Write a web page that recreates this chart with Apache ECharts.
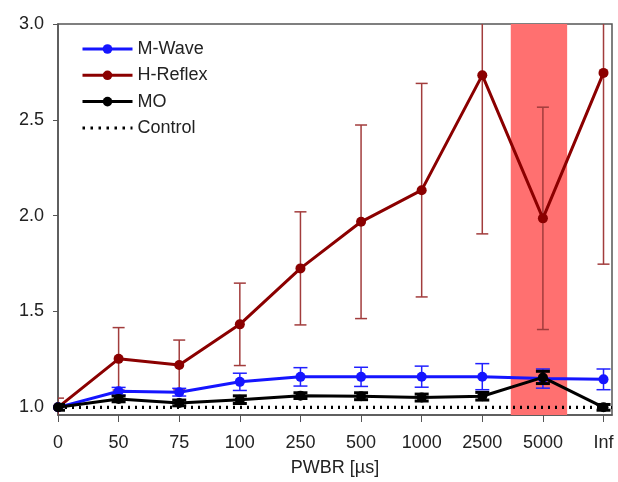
<!DOCTYPE html>
<html>
<head>
<meta charset="utf-8">
<script src="https://cdn.jsdelivr.net/npm/echarts@6/dist/echarts.min.js"></script>
<style>html,body{margin:0;padding:0;background:#fff}#c{width:618px;height:482px}</style>
</head>
<body>
<div id="c"></div>
<script>
const categories = ['0','50','75','100','250','500','1000','2500','5000','Inf'];
const hReflex    = [1.00, 1.253, 1.221, 1.433, 1.725, 1.968, 2.133, 2.733, 1.986, 2.745];
const hReflexErr = [0.048, 0.163, 0.130, 0.215, 0.295, 0.505, 0.557, 0.828, 0.580, 0.998];
const mWave      = [1.00, 1.084, 1.079, 1.133, 1.159, 1.159, 1.160, 1.160, 1.150, 1.146];
const mWaveErr   = [0.012, 0.020, 0.020, 0.045, 0.048, 0.050, 0.055, 0.068, 0.050, 0.054];
const moVals     = [1.00, 1.044, 1.023, 1.040, 1.061, 1.058, 1.051, 1.058, 1.156, 1.00];
const moErr      = [0.015, 0.015, 0.015, 0.020, 0.015, 0.018, 0.018, 0.020, 0.032, 0.015];
const controlVals = [1, 1, 1, 1, 1, 1, 1, 1, 1, 1];
const controlLevel = 1.0;
const highlightRange = [7.47, 8.40];
const yTicks = [1.0, 1.5, 2.0, 2.5, 3.0];

const idx = categories.map((c, i) => i);
const pts = arr => arr.map((v, i) => [i, v]);
const errData = (vals, errs) => vals.map((v, i) => [i, v - errs[i], v + errs[i]]);

function errRender(color, lw, capHalf) {
  return function (params, api) {
    const x = api.value(0);
    const p1 = api.coord([x, api.value(1)]);
    const p2 = api.coord([x, api.value(2)]);
    const st = { stroke: color, lineWidth: lw };
    return {
      type: 'group',
      children: [
        { type: 'line', shape: { x1: p1[0], y1: p1[1], x2: p2[0], y2: p2[1] }, style: st },
        { type: 'line', shape: { x1: p1[0] - capHalf, y1: p1[1], x2: p1[0] + capHalf, y2: p1[1] }, style: st },
        { type: 'line', shape: { x1: p2[0] - capHalf, y1: p2[1], x2: p2[0] + capHalf, y2: p2[1] }, style: st }
      ]
    };
  };
}

const FONT = 'Liberation Sans, Arial, sans-serif';
const chart = echarts.init(document.getElementById('c'), null, { renderer: 'canvas' });
chart.setOption({
  animation: false,
  backgroundColor: '#ffffff',
  grid: { left: 58, top: 24, right: 6, bottom: 62, show: true, borderColor: '#555', borderWidth: 1.5 },
  legend: {
    orient: 'vertical', left: 76, top: 35, itemGap: 8.3, itemWidth: 50, itemHeight: 12,
    textStyle: { fontFamily: FONT, fontSize: 18, color: '#222' },
    lineStyle: { width: 3 },
    data: ['M-Wave', 'H-Reflex', 'MO',
      { name: 'Control', itemStyle: { color: 'rgba(0,0,0,0)', borderWidth: 0, opacity: 0 },
        lineStyle: { width: 3, type: [2.5, 5.5] } }]
  },
  xAxis: {
    type: 'value', min: 0, max: 9.14,
    name: 'PWBR [µs]', nameLocation: 'middle', nameGap: 44,
    nameTextStyle: { fontFamily: FONT, fontSize: 18, color: '#222' },
    axisLine: { show: true, lineStyle: { color: '#555', width: 1.5 } },
    axisTick: { show: true, length: 7, customValues: idx, lineStyle: { color: '#555' } },
    axisLabel: { customValues: idx, margin: 19, fontFamily: FONT, fontSize: 18, color: '#222',
      formatter: v => categories[Math.round(v)] },
    splitLine: { show: false }
  },
  yAxis: {
    type: 'value', min: 0.96, max: 3.0,
    axisLine: { show: true, lineStyle: { color: '#555', width: 1.5 } },
    axisTick: { show: true, length: 5, customValues: yTicks, lineStyle: { color: '#555' } },
    axisLabel: { customValues: yTicks, margin: 14, fontFamily: FONT, fontSize: 18, color: '#222',
      formatter: v => v.toFixed(1) },
    splitLine: { show: false }
  },
  series: [
    {
      name: 'highlight', type: 'line', data: [], z: 0, silent: true,
      markArea: { silent: true, itemStyle: { color: '#ff7070', opacity: 1 },
        data: [[{ xAxis: highlightRange[0] }, { xAxis: highlightRange[1] }]] }
    },
    {
      name: 'Control', type: 'line', data: pts(controlVals), symbol: 'none', showSymbol: false, z: 1,
      lineStyle: { color: '#000', width: 3, type: [2, 5] }, itemStyle: { color: '#000' },
      markLine: { silent: true, symbol: 'none', label: { show: false },
        lineStyle: { color: '#000', width: 3, type: [2, 5] },
        data: [{ yAxis: controlLevel }] }
    },
    { name: 'hErr', type: 'custom', clip: true, z: 2, renderItem: errRender('#a23c3c', 1.5, 6),
      encode: { x: 0, y: [1, 2] }, data: errData(hReflex, hReflexErr) },
    { name: 'H-Reflex', type: 'line', z: 3, data: pts(hReflex), symbol: 'circle', symbolSize: 10,
      lineStyle: { color: '#8b0000', width: 3 }, itemStyle: { color: '#8b0000' } },
    { name: 'mErr', type: 'custom', clip: true, z: 4, renderItem: errRender('#2020ff', 1.5, 7),
      encode: { x: 0, y: [1, 2] }, data: errData(mWave, mWaveErr) },
    { name: 'M-Wave', type: 'line', z: 5, data: pts(mWave), symbol: 'circle', symbolSize: 10,
      lineStyle: { color: '#1515ff', width: 3 }, itemStyle: { color: '#1515ff' } },
    { name: 'moErr', type: 'custom', clip: true, z: 6, renderItem: errRender('#000', 3, 7),
      encode: { x: 0, y: [1, 2] }, data: errData(moVals, moErr) },
    { name: 'MO', type: 'line', z: 7, data: pts(moVals), symbol: 'circle', symbolSize: 10,
      lineStyle: { color: '#000', width: 3 }, itemStyle: { color: '#000' } }
  ]
});
</script>
</body>
</html>
